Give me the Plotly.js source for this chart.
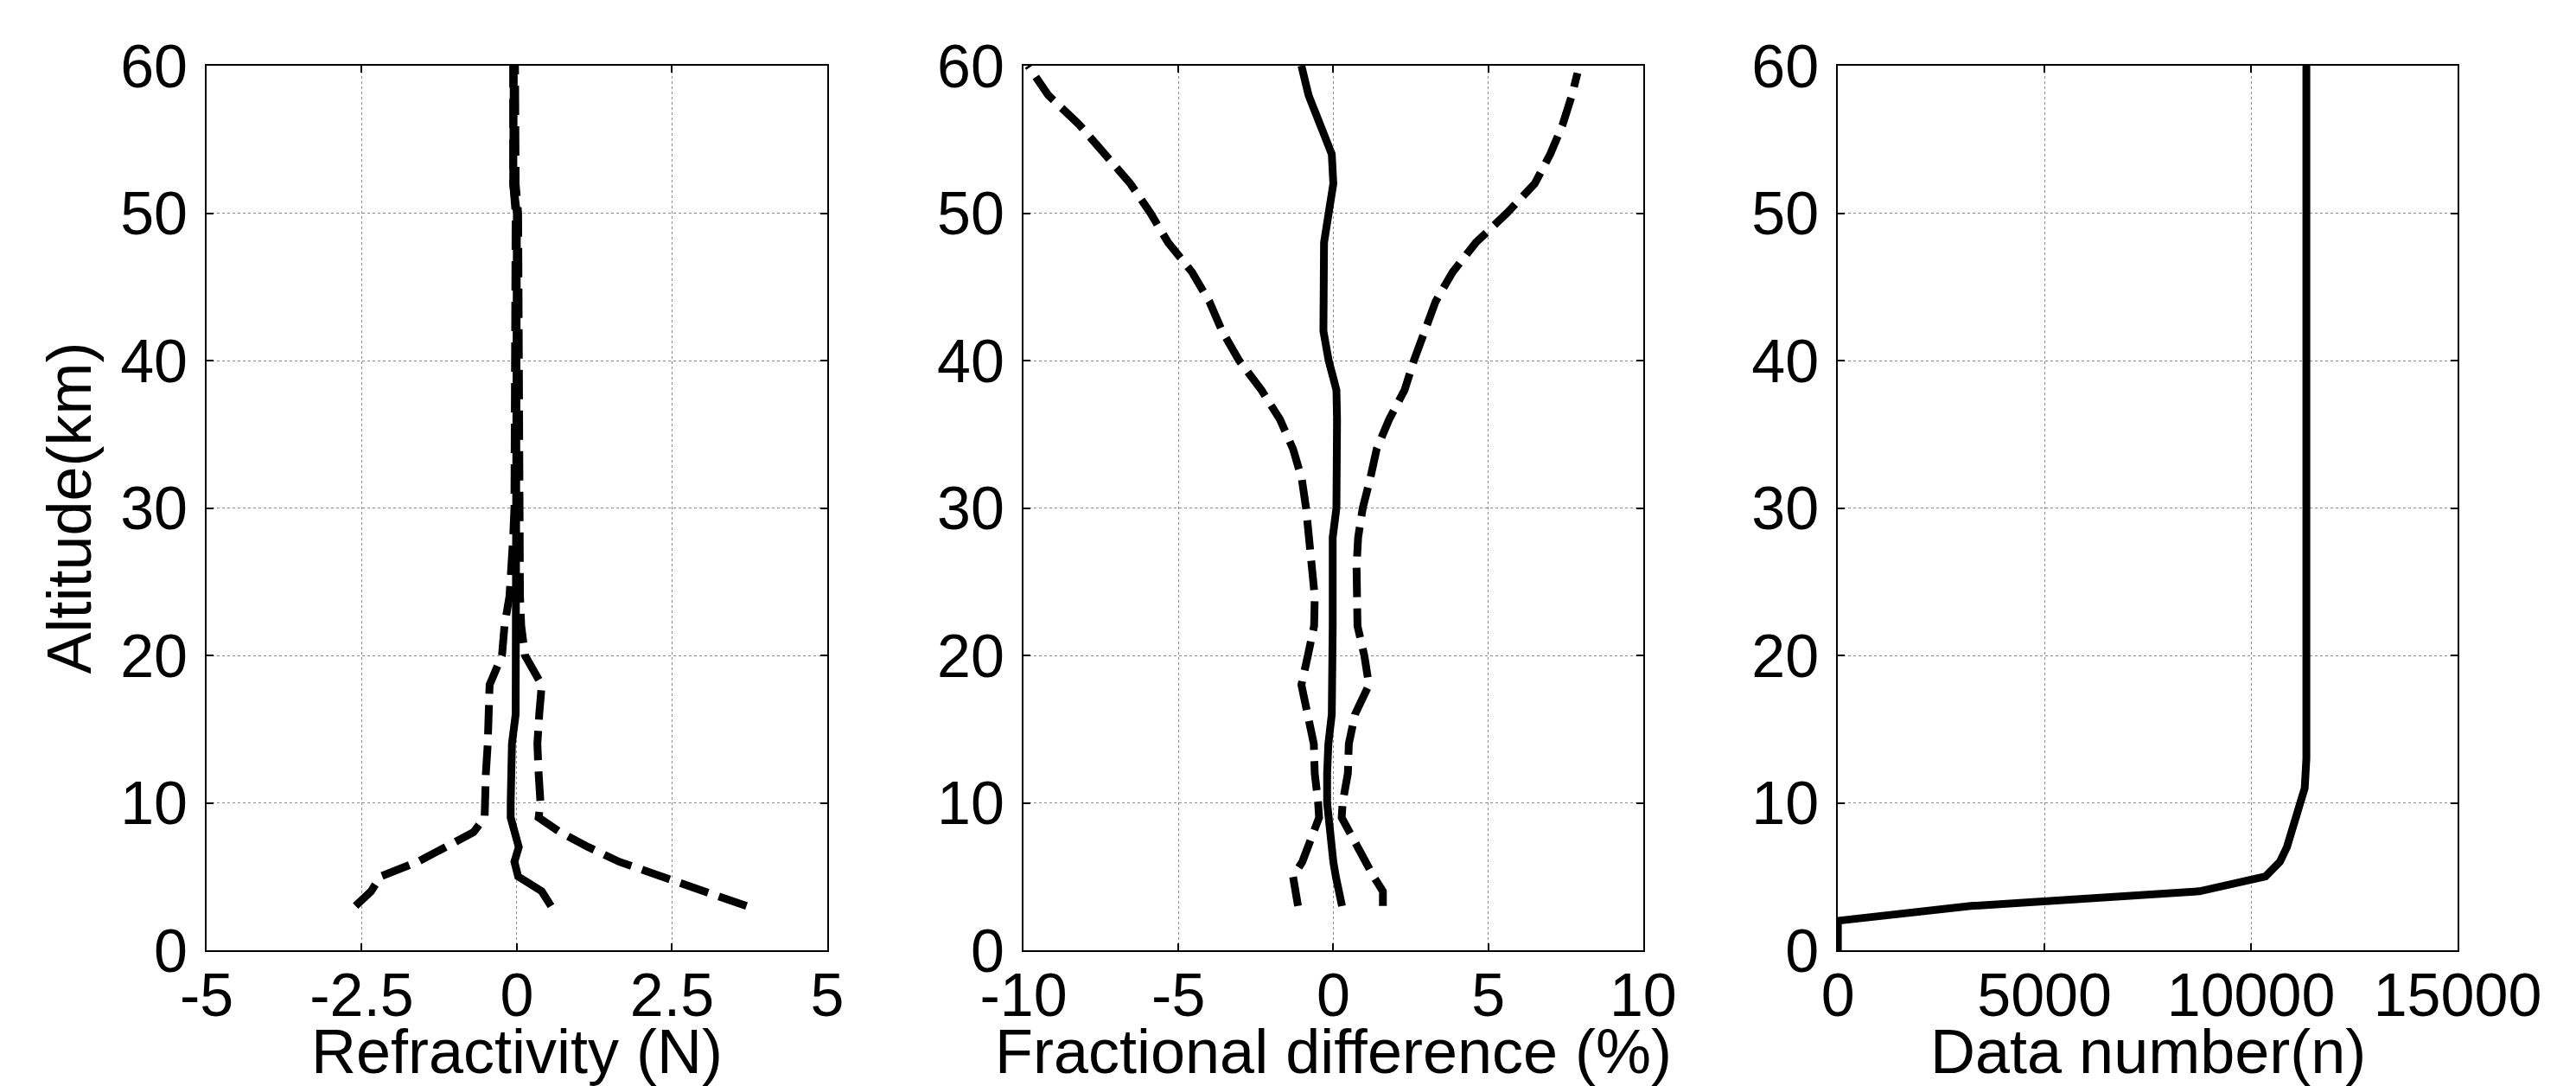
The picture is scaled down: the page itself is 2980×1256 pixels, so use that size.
<!DOCTYPE html>
<html>
<head>
<meta charset="utf-8">
<script src="https://cdn.plot.ly/plotly-3.0.1.min.js"></script>
<style>html,body{margin:0;padding:0;background:#fff;}#chart{width:2980px;height:1256px;}</style>
</head>
<body>
<div id="chart"></div>
<script>
// ---- Panel 1: Refractivity (N) ----
const altRef = [3,4,5,6,7,8,9,10,12,14,16,18,20,22,24,26,28,30,35,40,45,48,50,52,55,60];
const refMean = [0.55,0.4,0.02,-0.04,0.03,-0.05,-0.1,-0.1,-0.09,-0.08,-0.02,-0.02,-0.01,-0.01,-0.01,-0.01,0.0,0.0,-0.02,-0.02,-0.02,-0.02,0.0,-0.06,-0.05,-0.05];
const refLow  = [-2.6,-2.35,-2.2,-1.6,-1.15,-0.7,-0.52,-0.52,-0.5,-0.47,-0.47,-0.44,-0.24,-0.2,-0.12,-0.08,-0.06,-0.04,-0.03,-0.03,-0.03,-0.03,-0.02,-0.06,-0.06,-0.06];
const refHigh = [3.7,3.0,2.35,1.65,1.15,0.7,0.35,0.38,0.35,0.33,0.36,0.4,0.13,0.07,0.05,0.05,0.05,0.03,0.04,0.04,0.05,0.05,0.02,-0.02,-0.03,-0.03];

// ---- Panel 2: Fractional difference (%) ----
const altFrac = [3,4,5,6,7,8,9,10,12,14,16,18,20,22,24,26,28,30,32,34,36,38,40,42,44,46,48,50,52,54,56,58,60];
const fracMean = [0.28,0.15,0.08,0.0,-0.05,-0.12,-0.16,-0.2,-0.2,-0.16,-0.05,-0.02,-0.02,-0.02,-0.02,-0.02,-0.02,0.1,0.12,0.12,0.12,0.1,-0.15,-0.32,-0.32,-0.32,-0.3,-0.15,0.0,-0.05,-0.4,-0.8,-1.03];
const fracLow  = [-1.14,-1.25,-1.3,-1.0,-0.81,-0.6,-0.46,-0.49,-0.6,-0.63,-0.8,-1.03,-0.82,-0.62,-0.6,-0.68,-0.77,-0.88,-1.02,-1.3,-1.72,-2.32,-3.04,-3.59,-4.0,-4.56,-5.33,-5.9,-6.55,-7.34,-8.2,-9.2,-9.85];
const altFracHigh = [3,4,5,6,7,8,9,10,12,14,16,18,20,22,24,26,28,30,32,34,36,38,40,42,44,46,48,50,52,54,56,58,59.5];
const fracHigh = [1.6,1.6,1.3,1.05,0.75,0.5,0.27,0.3,0.47,0.5,0.7,1.15,1.0,0.78,0.75,0.75,0.8,0.95,1.19,1.4,1.8,2.3,2.6,2.95,3.3,3.85,4.6,5.6,6.5,7.0,7.4,7.7,7.88];

// ---- Panel 3: Data number (n) ----
const altNum = [0,1,2,3,4,5,6,7,8,9,10,11,12,13,20,30,40,50,60];
const dataNum = [0,0,0,3220,8750,10350,10700,10870,10980,11080,11200,11300,11320,11340,11340,11340,11340,11340,11340];

// ---- Tick labels and titles ----
const ticksRef = [-5,-2.5,0,2.5,5];
const ticksRefText = ['-5','-2.5','0','2.5','5'];
const ticksFrac = [-10,-5,0,5,10];
const ticksFracText = ['-10','-5','0','5','10'];
const ticksNum = [0,5000,10000,15000];
const ticksNumText = ['0','5000','10000','15000'];
const ticksAlt = [0,10,20,30,40,50,60];
const ticksAltText = ['0','10','20','30','40','50','60'];
const xTitles = ['Refractivity (N)', 'Fractional difference (%)', 'Data number(n)'];
const yTitle = 'Altitude(km)';

const FONT = 'Liberation Sans, Arial, sans-serif';
const solid = {color:'#000', width:9};
const dashed = {color:'#000', width:9, dash:'34px,13px'};

function tr(x, y, xa, ya, line){
  return {x:x, y:y, xaxis:xa, yaxis:ya, type:'scatter', mode:'lines', line:line, hoverinfo:'skip'};
}

const data = [
  tr(refLow, altRef, 'x', 'y', dashed),
  tr(refHigh, altRef, 'x', 'y', dashed),
  tr(refMean, altRef, 'x', 'y', solid),
  tr(fracLow, altFrac, 'x2', 'y2', dashed),
  tr(fracHigh, altFracHigh, 'x2', 'y2', dashed),
  tr(fracMean, altFrac, 'x2', 'y2', solid),
  tr(dataNum, altNum, 'x3', 'y3', solid)
];

function xax(domain, range, vals, text, anchor){
  return {
    domain: domain, range: range, anchor: anchor,
    tickmode:'array', tickvals: vals, ticktext: text,
    showgrid:true, gridcolor:'#8c8c8c', griddash:'dot', gridwidth:1,
    zeroline:false, showline:true, linecolor:'#000', linewidth:2, mirror:'ticks',
    ticks:'inside', ticklen:8, tickwidth:2, tickcolor:'#000',
    tickfont:{family:FONT, size:70, color:'#000'},
    ticklabelstandoff: -10
  };
}
function yax(anchor, title){
  const a = {
    range:[0,60], anchor: anchor, domain:[0,1],
    tickmode:'array', tickvals: ticksAlt, ticktext: ticksAltText,
    showgrid:true, gridcolor:'#8c8c8c', griddash:'dot', gridwidth:1,
    zeroline:false, showline:true, linecolor:'#000', linewidth:2, mirror:'ticks',
    ticks:'inside', ticklen:8, tickwidth:2, tickcolor:'#000',
    tickfont:{family:FONT, size:70, color:'#000'},
    ticklabelstandoff: 6
  };
  if (title) a.title = {text:title, font:{family:FONT, size:72, color:'#000'}, standoff:10};
  return a;
}

const xDomains = [[0,0.2757],[0.3629,0.6382],[0.7247,1]];
const annotations = xTitles.map((t, i) => ({
  text: t, showarrow:false,
  xref:'paper', yref:'paper',
  x:(xDomains[i][0] + xDomains[i][1]) / 2, y:-0.114,
  xanchor:'center', yanchor:'middle',
  font:{family:FONT, size:72, color:'#000'}
}));

const layout = {
  width:2980, height:1256,
  margin:{l:239, r:137, t:76, b:157, pad:0},
  paper_bgcolor:'#fff', plot_bgcolor:'#fff',
  showlegend:false,
  font:{family:FONT, color:'#000'},
  xaxis: xax(xDomains[0], [-5,5], ticksRef, ticksRefText, 'y'),
  xaxis2: xax(xDomains[1], [-10,10], ticksFrac, ticksFracText, 'y2'),
  xaxis3: xax(xDomains[2], [0,15000], ticksNum, ticksNumText, 'y3'),
  yaxis: yax('x', yTitle),
  yaxis2: yax('x2'),
  yaxis3: yax('x3'),
  annotations: annotations
};

Plotly.newPlot('chart', data, layout, {staticPlot:true, displayModeBar:false});
</script>
</body>
</html>
